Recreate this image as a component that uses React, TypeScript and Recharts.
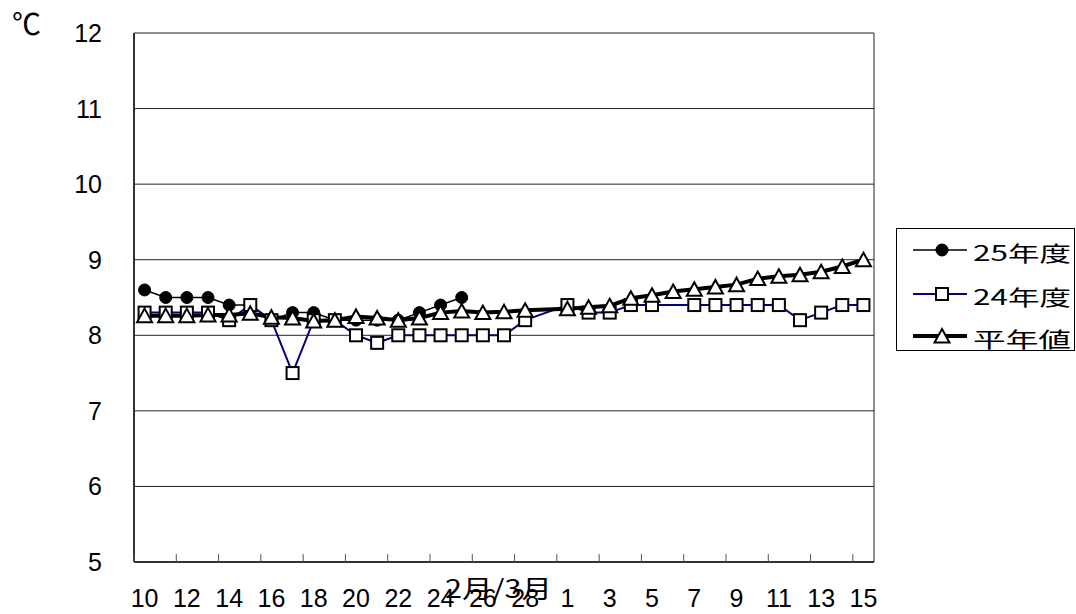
import React from 'react';
import { LineChart, Line, XAxis, YAxis, CartesianGrid } from 'recharts';

// ---- data ----
const febDays = [10, 11, 12, 13, 14, 15, 16, 17, 18, 19, 20, 21, 22, 23, 24, 25, 26, 27, 28, 29];
const marDays = [1, 2, 3, 4, 5, 6, 7, 8, 9, 10, 11, 12, 13, 14, 15];
const categories = [...febDays.map((d) => `2/${d}`), ...marDays.map((d) => `3/${d}`)];
const tickLabels = [...febDays, ...marDays].map(String);

const fy25: (number | null)[] = [8.6, 8.5, 8.5, 8.5, 8.4, 8.4, 8.2, 8.3, 8.3, 8.2, 8.2, 8.2, 8.2, 8.3, 8.4, 8.5];
const fy24: (number | null)[] = [
  8.3, 8.3, 8.3, 8.3, 8.2, 8.4, 8.2, 7.5, 8.2, 8.2, 8.0, 7.9, 8.0, 8.0, 8.0, 8.0, 8.0, 8.0, 8.2, null,
  8.4, 8.3, 8.3, 8.4, 8.4, null, 8.4, 8.4, 8.4, 8.4, 8.4, 8.2, 8.3, 8.4, 8.4,
];
const normal: (number | null)[] = [
  8.26, 8.26, 8.26, 8.27, 8.27, 8.29, 8.24, 8.23, 8.19, 8.2, 8.25, 8.23, 8.2, 8.23, 8.3, 8.32, 8.3, 8.31, 8.33, null,
  8.35, 8.37, 8.39, 8.49, 8.53, 8.58, 8.61, 8.64, 8.67, 8.75, 8.78, 8.8, 8.84, 8.91, 9.0,
];
const yTicks = [5, 6, 7, 8, 9, 10, 11, 12];
const seriesNames = ['25年度', '24年度', '平年値'];

const data = categories.map((c, i) => ({
  cat: c,
  fy25: fy25[i] ?? null,
  fy24: fy24[i] ?? null,
  normal: normal[i] ?? null,
}));
const labelOf: Record<string, string> = {};
categories.forEach((c, i) => (labelOf[c] = tickLabels[i]));

// ---- layout ----
const W = 1076;
const H = 614;
const PLOT_LEFT = 134;
const PLOT_RIGHT = 874;
const PLOT_TOP = 33;
const PLOT_BOTTOM = 562;
const DIGIT_FONT = '"Liberation Sans", Arial, sans-serif';
const CJK_FONT = '"Noto Sans CJK JP", sans-serif';

const Square = ({ cx, cy }: { cx: number; cy: number }) => (
  <rect x={cx - 6} y={cy - 6} width={12} height={12} fill="#fff" stroke="#000" strokeWidth={2} />
);
const Triangle = ({ cx, cy }: { cx: number; cy: number }) => (
  <polygon
    points={`${cx},${cy - 7} ${cx + 7.5},${cy + 6.5} ${cx - 7.5},${cy + 6.5}`}
    fill="#fff"
    stroke="#000"
    strokeWidth={2}
    strokeLinejoin="miter"
  />
);

const squareDot = (p: any) => {
  if (p.cx == null || p.cy == null || p.value == null) return <g key={`s-${p.index}`} />;
  return <Square key={`s-${p.index}`} cx={p.cx} cy={p.cy} />;
};
const triangleDot = (p: any) => {
  if (p.cx == null || p.cy == null || p.value == null) return <g key={`t-${p.index}`} />;
  return <Triangle key={`t-${p.index}`} cx={p.cx} cy={p.cy} />;
};

const YTick = (p: any) => (
  <text
    x={PLOT_LEFT - 32}
    y={p.y}
    textAnchor="end"
    dominantBaseline="central"
    fontSize={25}
    fontFamily={DIGIT_FONT}
    fill="#000"
  >
    {p.payload.value}
  </text>
);

const XTick = (p: any) => {
  const bw = (PLOT_RIGHT - PLOT_LEFT) / categories.length;
  const tx = p.x - bw / 2;
  return (
    <g>
      <line x1={tx} x2={tx} y1={PLOT_BOTTOM} y2={PLOT_BOTTOM - 8} stroke="#555" strokeWidth={1} />
      <text x={p.x} y={PLOT_BOTTOM + 45} textAnchor="middle" fontSize={25} fontFamily={DIGIT_FONT} fill="#000">
        {labelOf[p.payload.value]}
      </text>
    </g>
  );
};

const LegendBox = () => {
  const rows = [22, 66, 108];
  return (
    <svg width={180} height={124} style={{ position: 'absolute', left: 896, top: 228 }}>
      <rect x={0.5} y={0.5} width={178} height={122} fill="#fff" stroke="#000" strokeWidth={1} />
      <line x1={17} x2={71} y1={rows[0]} y2={rows[0]} stroke="#000" strokeWidth={1.5} />
      <circle cx={46} cy={rows[0]} r={6.5} fill="#000" />
      <line x1={17} x2={71} y1={rows[1]} y2={rows[1]} stroke="#000080" strokeWidth={2} />
      <Square cx={46} cy={rows[1]} />
      <line x1={17} x2={71} y1={rows[2]} y2={rows[2]} stroke="#000" strokeWidth={4} />
      <Triangle cx={46} cy={rows[2]} />
      {seriesNames.map((n, i) => (
        <text
          key={n}
          x={77}
          y={rows[i] + 2}
          dominantBaseline="central"
          fontSize={21}
          fontFamily={CJK_FONT}
          textLength={98}
          lengthAdjust="spacingAndGlyphs"
          fill="#000"
        >
          {n}
        </text>
      ))}
    </svg>
  );
};

export default function App() {
  return (
    <div style={{ position: 'absolute', left: 0, top: 0, width: W, height: H, background: '#fff' }}>
      <LineChart
        width={W}
        height={H}
        data={data}
        margin={{ top: PLOT_TOP, right: W - PLOT_RIGHT, bottom: 0, left: 0 }}
      >
        <CartesianGrid
          stroke="#222"
          strokeWidth={1}
          horizontal={true}
          vertical={true}
          verticalCoordinatesGenerator={({ offset }: any) => [offset.left, offset.left + offset.width]}
        />
        <XAxis
          dataKey="cat"
          type="category"
          scale="band"
          interval={1}
          height={H - PLOT_BOTTOM}
          tickLine={false}
          tickSize={0}
          tickMargin={0}
          axisLine={{ stroke: '#333', strokeWidth: 2 }}
          tick={<XTick />}
        />
        <YAxis
          type="number"
          domain={[5, 12]}
          ticks={yTicks}
          interval={0}
          width={PLOT_LEFT}
          allowDataOverflow
          tickLine={false}
          axisLine={{ stroke: '#333', strokeWidth: 2 }}
          tick={<YTick />}
        />
        <Line
          dataKey="fy25"
          name={seriesNames[0]}
          stroke="#000"
          strokeWidth={1.5}
          dot={{ r: 6, fill: '#000', stroke: '#000', strokeWidth: 1 }}
          activeDot={false}
          isAnimationActive={false}
        />
        <Line
          dataKey="fy24"
          name={seriesNames[1]}
          stroke="#000080"
          strokeWidth={2}
          connectNulls
          dot={squareDot}
          activeDot={false}
          isAnimationActive={false}
        />
        <Line
          dataKey="normal"
          name={seriesNames[2]}
          stroke="#000"
          strokeWidth={4}
          connectNulls
          dot={triangleDot}
          activeDot={false}
          isAnimationActive={false}
        />
      </LineChart>
      <svg width={W} height={H} style={{ position: 'absolute', left: 0, top: 0, pointerEvents: 'none' }}>
        <text x={12} y={35} fontSize={29} fontFamily={CJK_FONT} textLength={29} lengthAdjust="spacingAndGlyphs" fill="#000">
          ℃
        </text>
        <text
          x={498.5}
          y={598}
          textAnchor="middle"
          fontSize={25}
          fontFamily={CJK_FONT}
          textLength={107}
          lengthAdjust="spacingAndGlyphs"
          fill="#000"
        >
          2月/3月
        </text>
      </svg>
      <LegendBox />
    </div>
  );
}
